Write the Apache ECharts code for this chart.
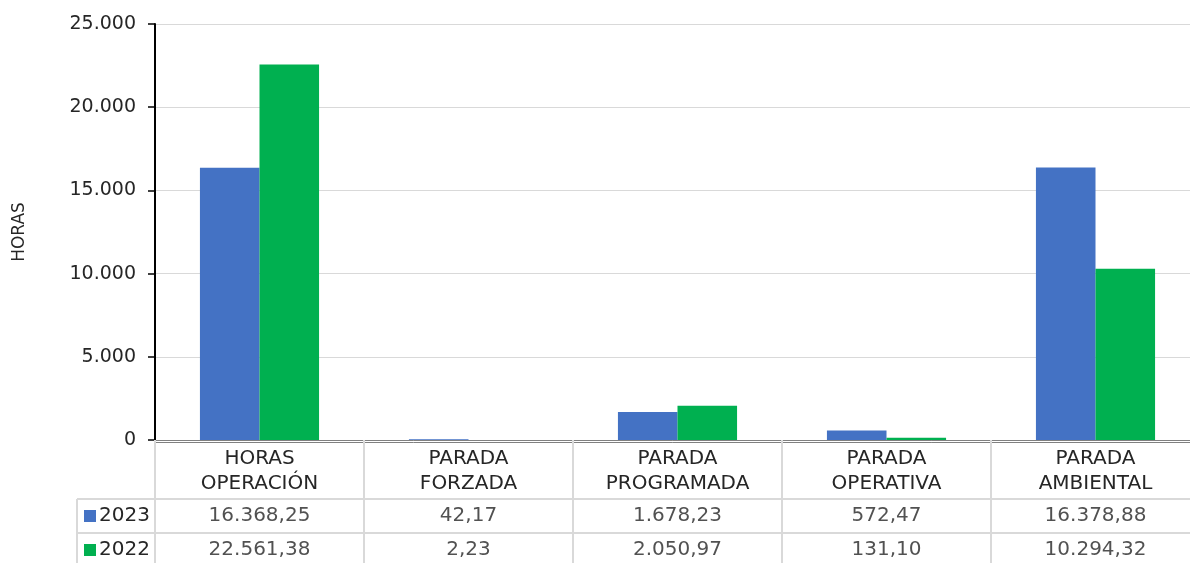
<!DOCTYPE html>
<html>
<head>
<meta charset="utf-8">
<script src="https://cdn.jsdelivr.net/npm/echarts@6/dist/echarts.min.js"></script>
<style>
  html, body { margin: 0; padding: 0; background: #fff; }
  #chart { width: 1190px; height: 563px; }
</style>
</head>
<body>
<div id="chart"></div>
<script>
const categories = ['HORAS\nOPERACIÓN', 'PARADA\nFORZADA', 'PARADA\nPROGRAMADA', 'PARADA\nOPERATIVA', 'PARADA\nAMBIENTAL']
const years = ['2023', '2022']
const values2023 = [16368.25, 42.17, 1678.23, 572.47, 16378.88]
const values2022 = [22561.38, 2.23, 2050.97, 131.10, 10294.32]
const yTicks = [0, 5000, 10000, 15000, 20000, 25000]
const colors = ['#4472C4', '#00B050']

const FONT = 'DejaVu Sans'
const TEXT = '#262626'
const LINE = '#d9d9d9'

// 16368.25 -> "16.368,25"
function fmt(v, dec) {
  const parts = v.toFixed(dec).split('.')
  const int = parts[0].replace(/\B(?=(\d{3})+(?!\d))/g, '.')
  return parts[1] ? int + ',' + parts[1] : int
}

const cellData = []
categories.forEach((c, i) => {
  cellData.push([i, 0, values2023[i]])
  cellData.push([i, 1, values2022[i]])
})

const chart = echarts.init(document.getElementById('chart'))
chart.setOption({
  animation: false,
  textStyle: { fontFamily: FONT },
  grid: [
    { left: 155, width: 1045, top: 24, height: 416, outerBoundsMode: 'none' },
    { left: 155, width: 1045, top: 499, height: 68, outerBoundsMode: 'none' },
    { left: 77, width: 78, top: 499, height: 68, outerBoundsMode: 'none' },
  ],
  xAxis: [
    {
      type: 'category',
      gridIndex: 0,
      data: categories,
      axisLine: { lineStyle: { color: '#808080', width: 1 } },
      axisTick: { show: true, length: 59, lineStyle: { color: LINE, width: 2 } },
      axisLabel: { color: TEXT, fontSize: 20, lineHeight: 25, margin: 6, interval: 0 },
    },
    {
      type: 'category',
      gridIndex: 0,
      data: categories,
      position: 'bottom',
      offset: 2,
      axisLine: { lineStyle: { color: '#808080', width: 1 } },
      axisTick: { show: false },
      axisLabel: { show: false },
    },
    {
      type: 'category',
      gridIndex: 1,
      data: categories,
      axisLine: { show: false },
      axisTick: { show: false },
      axisLabel: { show: false },
      splitLine: { show: true, lineStyle: { color: LINE, width: 2 } },
    },
    {
      type: 'category',
      gridIndex: 2,
      data: [''],
      axisLine: { show: false },
      axisTick: { show: false },
      axisLabel: { show: false },
      splitLine: { show: true, lineStyle: { color: LINE, width: 2 } },
    },
  ],
  yAxis: [
    {
      type: 'value',
      gridIndex: 0,
      min: yTicks[0],
      max: yTicks[yTicks.length - 1],
      interval: yTicks[1] - yTicks[0],
      name: 'HORAS',
      nameLocation: 'middle',
      nameRotate: 90,
      nameGap: 127,
      nameTextStyle: { fontSize: 17, color: TEXT },
      axisLine: { show: true, lineStyle: { color: '#000', width: 2 } },
      axisTick: { show: true, length: 7, lineStyle: { color: '#000', width: 1.5 } },
      axisLabel: { color: TEXT, fontSize: 19, margin: 19, formatter: v => fmt(v, 0) },
      splitLine: { lineStyle: { color: LINE, width: 1 } },
    },
    {
      type: 'category',
      gridIndex: 1,
      data: years,
      inverse: true,
      axisLine: { show: false },
      axisTick: { show: false },
      axisLabel: { show: false },
      splitLine: { show: true, lineStyle: { color: LINE, width: 2 } },
    },
    {
      // row headers with the series colour square
      type: 'category',
      gridIndex: 2,
      data: years,
      inverse: true,
      axisLine: { show: false },
      axisTick: { show: false },
      axisLabel: {
        inside: true,
        margin: 7,
        color: TEXT,
        fontSize: 20,
        formatter: (v, i) => `{s${i}|}{t|${v}}`,
        rich: {
          s0: { width: 12, height: 12, backgroundColor: colors[0] },
          s1: { width: 12, height: 12, backgroundColor: colors[1] },
          t: { fontSize: 20, color: TEXT, padding: [0, 0, 0, 3] },
        },
      },
      splitLine: { show: true, lineStyle: { color: LINE, width: 2 } },
    },
  ],
  series: [
    {
      name: '2023',
      type: 'bar',
      xAxisIndex: 0,
      yAxisIndex: 0,
      data: values2023,
      barGap: '0%',
      barCategoryGap: '43%',
      itemStyle: { color: colors[0] },
    },
    {
      name: '2022',
      type: 'bar',
      xAxisIndex: 0,
      yAxisIndex: 0,
      data: values2022,
      itemStyle: { color: colors[1] },
    },
    {
      name: 'tabla',
      type: 'scatter',
      xAxisIndex: 2,
      yAxisIndex: 1,
      data: cellData,
      symbolSize: 1,
      itemStyle: { color: 'rgba(0,0,0,0)' },
      label: {
        show: true,
        position: 'inside',
        color: TEXT,
        fontSize: 20,
        fontFamily: FONT,
        formatter: p => fmt(p.value[2], 2),
      },
      silent: true,
    },
  ],
})
</script>
</body>
</html>
